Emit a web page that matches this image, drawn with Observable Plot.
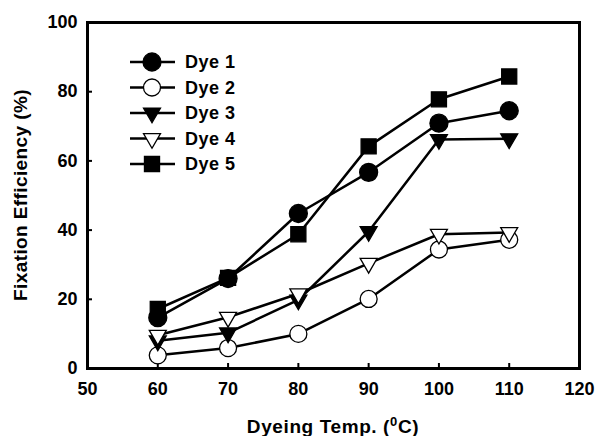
<!DOCTYPE html>
<html>
<head>
<meta charset="utf-8">
<script src="https://cdn.jsdelivr.net/npm/d3@7"></script>
<script src="https://cdn.jsdelivr.net/npm/@observablehq/plot@0.6"></script>
<style>
  html, body { margin: 0; padding: 0; background: #fff; }
  #chart { width: 596px; height: 436px; }
</style>
</head>
<body>
<div id="chart"></div>
<script>
const temps = [60, 70, 80, 90, 100, 110];
const dyeNames = ["Dye 1", "Dye 2", "Dye 3", "Dye 4", "Dye 5"];
const dye1 = [14.7, 26.0, 44.8, 56.7, 70.9, 74.5];
const dye2 = [3.8, 5.9, 10.0, 20.1, 34.4, 37.2];
const dye3 = [8.0, 10.3, 19.8, 39.6, 66.2, 66.4];
const dye4 = [9.6, 14.8, 21.6, 30.4, 38.8, 39.3];
const dye5 = [17.2, 26.2, 38.8, 64.2, 77.8, 84.4];
const xTicks = [50, 60, 70, 80, 90, 100, 110, 120];
const yTicks = [0, 20, 40, 60, 80, 100];
const xTitle = ["Dyeing Temp. (", "0", "C)"];
const yTitle = "Fixation Efficiency (%)";

// marker styles per dye
const styles = {
  "Dye 1": {symbol: "circle", fill: "#000", r: 9, rotate: 0},
  "Dye 2": {symbol: "circle", fill: "#fff", r: 8.5, rotate: 0},
  "Dye 3": {symbol: "triangle", fill: "#000", r: 6.3, rotate: 180},
  "Dye 4": {symbol: "triangle", fill: "#fff", r: 6.3, rotate: 180},
  "Dye 5": {symbol: "square", fill: "#000", r: 8.5, rotate: 0}
};

(function () {
const series = [dye1, dye2, dye3, dye4, dye5];
const rows = [];
series.forEach((vals, i) => vals.forEach((v, j) => rows.push({dye: dyeNames[i], temp: temps[j], value: v})));

const dotMarks = dyeNames.map(name => {
  const s = styles[name];
  return Plot.dot(rows.filter(d => d.dye === name), {
    x: "temp", y: "value", symbol: s.symbol, r: s.r, fill: s.fill,
    stroke: "#000", strokeWidth: 1.3, rotate: s.rotate
  });
});

const plot = Plot.plot({
  width: 596, height: 436,
  marginLeft: 87, marginRight: 17, marginTop: 22, marginBottom: 68,
  x: {domain: [50, 120]},
  y: {domain: [0, 100]},
  style: {fontFamily: "'Liberation Sans', Arial, sans-serif", fontWeight: "bold", fontSize: "18px", color: "#000", background: "#fff"},
  marks: [
    Plot.axisX({ticks: xTicks, tickSize: -5, tickPadding: 19, label: null, strokeWidth: 2, tickFormat: d => String(d)}),
    Plot.axisY({ticks: yTicks, tickSize: -5, tickPadding: 15, label: null, strokeWidth: 2, tickFormat: d => String(d)}),
    Plot.line(rows, {x: "temp", y: "value", z: "dye", stroke: "#000", strokeWidth: 2.5}),
    ...dotMarks,
    Plot.frame({stroke: "#000", strokeWidth: 3})
  ]
});
document.getElementById("chart").appendChild(plot);

const svg = d3.select(plot);
const xs = plot.scale("x"), ys = plot.scale("y");
const xLeft = xs.range[0], xRight = xs.range[1];
const yBottom = ys.range[0], yTop = ys.range[1];

// X title
const xt = svg.append("text")
  .attr("x", (xLeft + xRight) / 2).attr("y", 433)
  .attr("text-anchor", "middle")
  .style("font-size", "19px").style("font-weight", "bold").style("letter-spacing", "0.6px")
  .attr("fill", "#000");
xt.append("tspan").text(xTitle[0]);
xt.append("tspan").text(xTitle[1]).style("font-size", "13px").attr("dy", "-7");
xt.append("tspan").text(xTitle[2]).attr("dy", "7");

// Y title
svg.append("text")
  .attr("transform", `translate(27,${(yTop + yBottom) / 2}) rotate(-90)`)
  .attr("text-anchor", "middle")
  .style("font-size", "19px").style("font-weight", "bold").style("letter-spacing", "0.4px")
  .attr("fill", "#000")
  .text(yTitle);

// Legend
const lg = svg.append("g").attr("text-anchor", "start");
dyeNames.forEach((name, i) => {
  const s = styles[name];
  const cy = 62 + i * 25.5;
  lg.append("line").attr("x1", 130).attr("x2", 175).attr("y1", cy).attr("y2", cy)
    .attr("stroke", "#000").attr("stroke-width", 2.5);
  const sym = s.symbol === "circle" ? d3.symbolCircle : s.symbol === "square" ? d3.symbolSquare : d3.symbolTriangle;
  lg.append("path")
    .attr("d", d3.symbol(sym, Math.PI * s.r * s.r)())
    .attr("transform", `translate(152,${cy}) rotate(${s.rotate})`)
    .attr("fill", s.fill).attr("stroke", "#000").attr("stroke-width", 1.3);
  lg.append("text").attr("x", 185).attr("y", cy).attr("dy", "0.36em")
    .attr("text-anchor", "start")
    .style("font-size", "18px").style("font-weight", "bold").style("letter-spacing", "0.5px")
    .attr("fill", "#000").text(name);
});
})();
</script>
</body>
</html>
